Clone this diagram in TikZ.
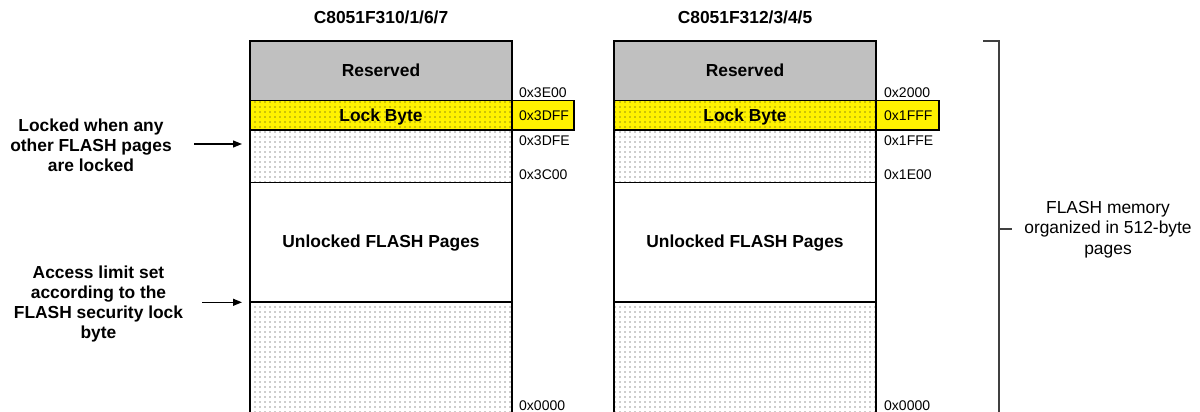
\documentclass[tikz,border=0pt]{standalone}
\usepackage{fontspec}
\setmainfont{Liberation Sans}
\usetikzlibrary{patterns.meta,arrows.meta}
\definecolor{resgray}{RGB}{192,192,192}
\definecolor{brgray}{RGB}{64,64,64}
\tikzset{
  boxline/.style={draw=black, line width=1.2pt},
  dotfill/.style={pattern={Dots[distance=5pt,radius=0.65pt]}, pattern color=black!85},
  boldtxt/.style={font={\fontsize{17.4}{20}\selectfont\bfseries}, inner sep=0pt, text height=12.4pt, text depth=0pt},
  sidelbl/.style={font={\fontsize{17.4}{20}\selectfont\bfseries}, inner sep=0pt, align=center},
  addr/.style={font={\fontsize{14}{16}\selectfont}, anchor=west, inner sep=0pt, text height=10pt, text depth=0pt},
  brtxt/.style={font={\fontsize{17.4}{20.7}\selectfont}, inner sep=0pt, align=center},
  arr/.style={line width=1.2pt, -{Triangle[length=9pt,width=7pt]}},
  brline/.style={draw=brgray, line width=1.2pt}
}
\begin{document}
\begin{tikzpicture}[x=1pt,y=-1pt]
\useasboundingbox (0,0) rectangle (1200,412);

% ---------- left column ----------
\fill[resgray] (250,41) rectangle (512,100.7);
\fill[yellow] (250,100.7) rectangle (512,130);
\fill[dotfill] (250,100.7) rectangle (512,130);
\fill[dotfill] (250,130) rectangle (512,182.7);
\fill[dotfill] (250,302) rectangle (512,412);
\draw[boxline] (250,412) -- (250,41) -- (512,41) -- (512,412);
\draw[boxline] (250,100.7) -- (512,100.7);
\draw[boxline] (250,130) -- (512,130);
\draw[boxline] (250,182.7) -- (512,182.7);
\draw[boxline] (250,302) -- (512,302);
\draw[boxline, fill=yellow] (512,100.7) rectangle (574,130);

\node[boldtxt] (t1) at (381,17.5) {C8051F310/1/6/7};
\node[boldtxt] (res1) at (381,70.7) {Reserved};
\node[boldtxt] (lock1) at (381,115.5) {Lock Byte};
\node[boldtxt] (unl1) at (381,241) {Unlocked FLASH Pages};
\node[addr] (a1a) at (519,92.3) {0x3E00};
\node[addr] (a1b) at (519,115.5) {0x3DFF};
\node[addr] (a1c) at (519,140) {0x3DFE};
\node[addr] (a1d) at (519,174) {0x3C00};
\node[addr] (a1e) at (519,405) {0x0000};

% ---------- right column ----------
\fill[resgray] (614,41) rectangle (876,100.7);
\fill[yellow] (614,100.7) rectangle (876,130);
\fill[dotfill] (614,100.7) rectangle (876,130);
\fill[dotfill] (614,130) rectangle (876,182.7);
\fill[dotfill] (614,302) rectangle (876,412);
\draw[boxline] (614,412) -- (614,41) -- (876,41) -- (876,412);
\draw[boxline] (614,100.7) -- (876,100.7);
\draw[boxline] (614,130) -- (876,130);
\draw[boxline] (614,182.7) -- (876,182.7);
\draw[boxline] (614,302) -- (876,302);
\draw[boxline, fill=yellow] (876,100.7) rectangle (939,130);

\node[boldtxt] (t2) at (745,17.5) {C8051F312/3/4/5};
\node[boldtxt] (res2) at (745,70.7) {Reserved};
\node[boldtxt] (lock2) at (745,115.5) {Lock Byte};
\node[boldtxt] (unl2) at (745,241) {Unlocked FLASH Pages};
\node[addr] (a2a) at (884,92.3) {0x2000};
\node[addr] (a2b) at (884,115.5) {0x1FFF};
\node[addr] (a2c) at (884,140) {0x1FFE};
\node[addr] (a2d) at (884,174) {0x1E00};
\node[addr] (a2e) at (884,405) {0x0000};

% ---------- side labels ----------
\node[sidelbl] (lab1) at (91,145) {Locked when any\\other FLASH pages\\are locked};
\node[sidelbl] (lab2) at (98.5,303.5) {Access limit set\\according to the\\FLASH security lock\\byte};
\coordinate (ar1s) at (194,144);
\coordinate (ar1e) at (242,144);
\coordinate (ar2s) at (202,302.3);
\coordinate (ar2e) at (242,302.3);
\draw[arr] (ar1s) -- (ar1e);
\draw[arr] (ar2s) -- (ar2e);

% ---------- bracket ----------
\coordinate (bt0) at (983,41);
\coordinate (bt1) at (999,41);
\coordinate (bb) at (999,412);
\coordinate (bm) at (999,229);
\coordinate (bm2) at (1012,229);
\draw[brline] (bt0) -- (bt1) -- (bb);
\draw[brline] (bm) -- (bm2);
\node[brtxt] (brt) at (1108,229.5) {FLASH memory\\organized in 512-byte\\pages};
\end{tikzpicture}
\end{document}
